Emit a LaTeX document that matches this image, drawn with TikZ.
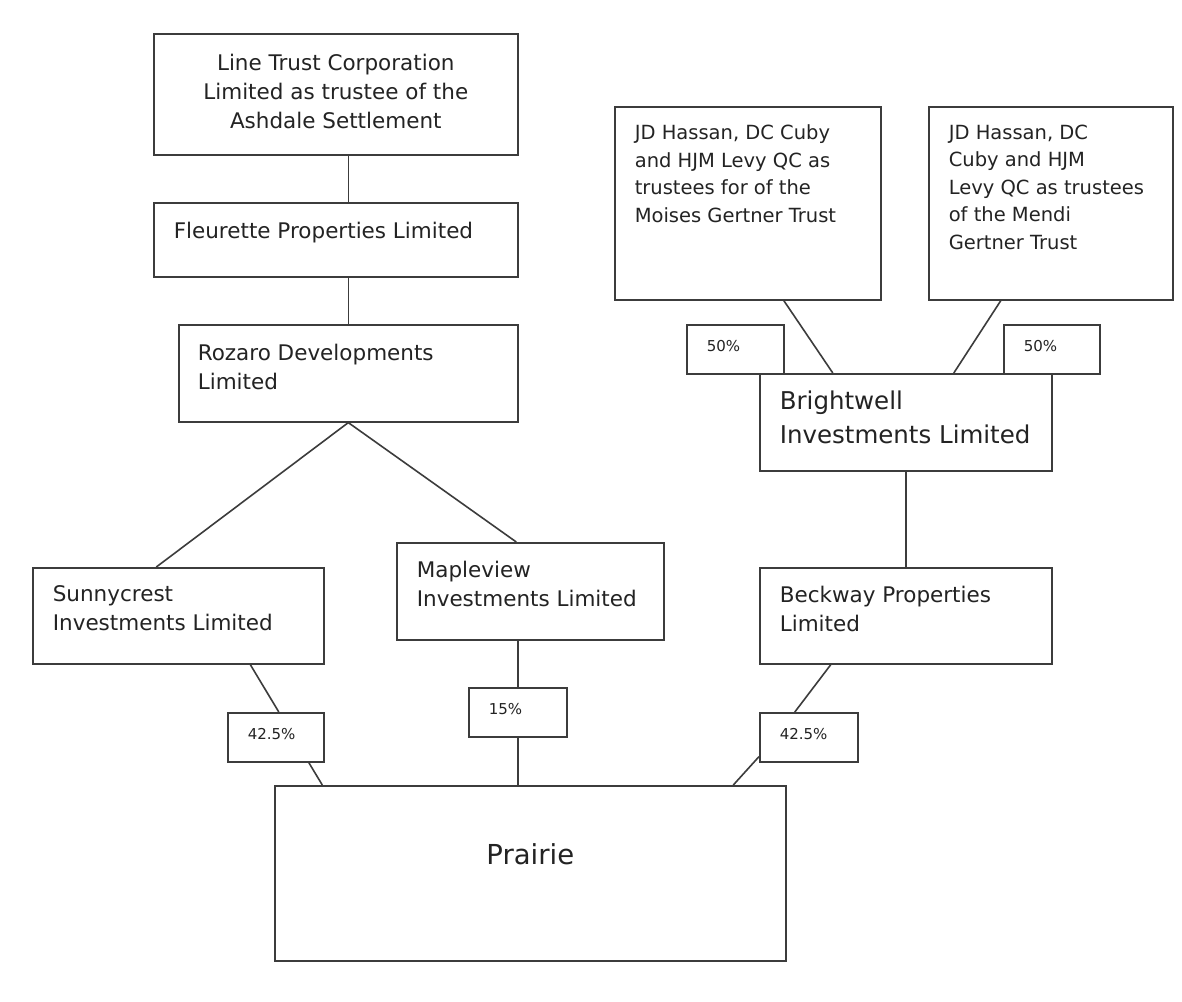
\documentclass[tikz,border=0pt]{standalone}
\usepackage{fontspec}
\setmainfont{DejaVu Sans}
\definecolor{boxgray}{RGB}{60,60,60}
\definecolor{inkgray}{RGB}{35,35,35}
\newcommand{\boxtext}[3]{\parbox[t][#2pt][t]{#1pt}{\raggedright #3}}
\newcommand{\midtext}[3]{\parbox[t][#2pt][t]{#1pt}{\centering #3}}
\begin{document}
\begin{tikzpicture}[x=1pt, y=-1pt,
    orgbox/.style={draw=boxgray, line width=1.6pt, anchor=north west, inner xsep=20pt, inner ysep=18pt, text=inkgray, font=\fontsize{21.5}{29}\selectfont},
    trustbox/.style={orgbox, font=\fontsize{19.5}{27.5}\selectfont},
    pctbox/.style={orgbox, inner ysep=15.5pt, font=\fontsize{15}{18}\selectfont},
    link/.style={draw=boxgray, line width=1.6pt}]
            \useasboundingbox (0,0) rectangle (1182,1001);
            \fill[white] (0,0) rectangle (1182,1001);
            \node[orgbox, inner ysep=20pt] (lt) at (153,33) {\midtext{324}{81}{Line Trust Corporation\\Limited as trustee of the\\Ashdale Settlement}};
            \node[orgbox, inner ysep=19pt] (fl) at (153,202) {\boxtext{324}{36}{Fleurette Properties Limited}};
            \node[orgbox, inner sep=19pt] (rz) at (178,324) {\boxtext{301}{59}{Rozaro Developments\\Limited}};
            \node[trustbox] (jd1) at (614,106) {\boxtext{226}{157}{JD Hassan, DC Cuby\\and HJM Levy QC as\\trustees for of the\\Moises Gertner Trust}};
            \node[trustbox] (jd2) at (928,106) {\boxtext{204}{157}{JD Hassan, DC\\Cuby and HJM\\Levy QC as trustees\\of the Mendi\\Gertner Trust}};
            \node[pctbox] (pa) at (686,324) {\boxtext{57}{18}{50\%}};
            \node[pctbox] (pb) at (1003,324) {\boxtext{56}{18}{50\%}};
            \node[orgbox, inner ysep=17pt, font=\fontsize{24.5}{34}\selectfont] (bw) at (759,373) {\boxtext{252}{63}{Brightwell\\Investments Limited}};
            \node[orgbox] (sc) at (32,567) {\boxtext{251}{60}{Sunnycrest\\Investments Limited}};
            \node[orgbox] (mv) at (396,542) {\boxtext{227}{61}{Mapleview\\Investments Limited}};
            \node[orgbox] (bk) at (759,567) {\boxtext{252}{60}{Beckway Properties\\Limited}};
            \node[pctbox] (p1) at (227,712) {\boxtext{56}{18}{42.5\%}};
            \node[pctbox] (p2) at (468,687) {\boxtext{58}{18}{15\%}};
            \node[pctbox] (p3) at (759,712) {\boxtext{58}{18}{42.5\%}};
            \node[orgbox, inner ysep=58pt, font=\fontsize{27.5}{33}\selectfont] (pr) at (274,785) {\midtext{471}{59}{Prairie}};
            \draw[link] (rz.north |- lt.south) -- (rz.north |- fl.north);
            \draw[link] (rz.north |- fl.south) -- (rz.north);
            \draw[link] (rz.south) -- ([xshift=-22pt]sc.north);
            \draw[link] (rz.south) -- ([xshift=-14pt]mv.north);
            \draw[link] ([xshift=72pt]sc.south) -- ([xshift=3pt]p1.north);
            \draw[link] ([xshift=33pt]p1.south) -- ([xshift=-208pt]pr.north);
            \draw[link] (p2.north |- mv.south) -- (p2.north);
            \draw[link] (p2.south) -- (p2.south |- pr.north);
            \draw[link] ([xshift=36pt]jd1.south) -- ([xshift=-73pt]bw.north);
            \draw[link] ([xshift=-50pt]jd2.south) -- ([xshift=48pt]bw.north);
            \draw[link] (bw.south) -- (bk.north);
            \draw[link] ([xshift=-75pt]bk.south) -- ([xshift=-14pt]p3.north);
            \draw[link] ([yshift=6pt]p3.south west) -- ([xshift=203pt]pr.north);
        \end{tikzpicture}
\end{document}
